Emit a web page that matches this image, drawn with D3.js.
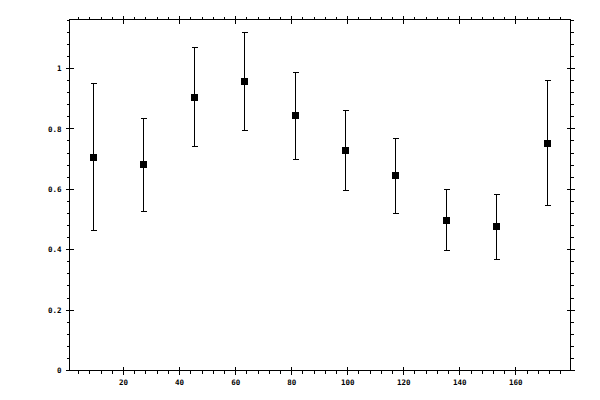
<!DOCTYPE html>
<html><head><meta charset="utf-8">
<script src="https://cdn.jsdelivr.net/npm/d3@7"></script>
<style>
body{margin:0;background:#fff;}
text{font-family:"DejaVu Sans Mono",monospace;font-size:7.5px;font-weight:bold;fill:#000;}
</style></head>
<body><svg id="c" width="600" height="400"></svg>
<script>
const xs   = [9, 27, 45, 63, 81, 99, 117, 135, 153, 171];
const ys   = [0.708, 0.684, 0.906, 0.959, 0.847, 0.731, 0.648, 0.499, 0.479, 0.754];
const yHi  = [0.953, 0.836, 1.072, 1.120, 0.989, 0.863, 0.770, 0.602, 0.585, 0.962];
const yLo  = [0.464, 0.529, 0.742, 0.795, 0.701, 0.598, 0.522, 0.400, 0.370, 0.549];
const xMajor = [20, 40, 60, 80, 100, 120, 140, 160];
const yMajor = [0, 0.2, 0.4, 0.6, 0.8, 1];

const svg = d3.select("#c");
const L = 69.5, R = 570.5, T = 19.5, B = 370.5;
const x = d3.scaleLinear().domain([0.7, 179.5]).range([L, R]);
const y = d3.scaleLinear().domain([0, 1.162]).range([B, T]);

const xMinor = d3.range(4, 180, 4).filter(v => v % 20 !== 0 && v > 0.7 && v < 179.5);
const yMinor = d3.range(0.04, 1.162, 0.04).filter(v => Math.abs(v/0.2 - Math.round(v/0.2)) > 1e-6);

const g = svg.append("g").attr("stroke", "#000").attr("stroke-width", 1).attr("shape-rendering", "crispEdges");
g.append("rect").attr("x", L).attr("y", T).attr("width", R - L).attr("height", B - T).attr("fill", "none");

xMajor.forEach(v => {
  g.append("line").attr("x1", x(v)).attr("x2", x(v)).attr("y1", B - 4).attr("y2", B + 4);
  g.append("line").attr("x1", x(v)).attr("x2", x(v)).attr("y1", T - 4).attr("y2", T + 4);
});
xMinor.forEach(v => {
  g.append("line").attr("x1", x(v)).attr("x2", x(v)).attr("y1", B).attr("y2", B + 3);
  g.append("line").attr("x1", x(v)).attr("x2", x(v)).attr("y1", T - 3).attr("y2", T);
});
yMajor.forEach(v => {
  g.append("line").attr("y1", y(v)).attr("y2", y(v)).attr("x1", L - 4).attr("x2", L + 4);
  g.append("line").attr("y1", y(v)).attr("y2", y(v)).attr("x1", R - 4).attr("x2", R + 4);
});
yMinor.forEach(v => {
  g.append("line").attr("y1", y(v)).attr("y2", y(v)).attr("x1", L - 3).attr("x2", L);
  g.append("line").attr("y1", y(v)).attr("y2", y(v)).attr("x1", R).attr("x2", R + 3);
});

svg.append("g").selectAll("text").data(xMajor).join("text")
  .attr("x", d => x(d)).attr("y", 384.5).attr("text-anchor", "middle").text(d => d);
svg.append("g").selectAll("text").data(yMajor).join("text")
  .attr("x", 61.5).attr("y", d => y(d) + 2.7).attr("text-anchor", "end")
  .text(d => String(+d.toFixed(1)));

const eb = svg.append("g").attr("stroke", "#000").attr("stroke-width", 1).attr("shape-rendering", "crispEdges");
xs.forEach((xv, i) => {
  const cx = Math.round(x(xv)) + 0.5;
  eb.append("line").attr("x1", cx).attr("x2", cx).attr("y1", y(yLo[i])).attr("y2", y(yHi[i]));
  eb.append("line").attr("x1", cx - 3).attr("x2", cx + 3).attr("y1", Math.round(y(yHi[i])) + 0.5).attr("y2", Math.round(y(yHi[i])) + 0.5);
  eb.append("line").attr("x1", cx - 3).attr("x2", cx + 3).attr("y1", Math.round(y(yLo[i])) + 0.5).attr("y2", Math.round(y(yLo[i])) + 0.5);
});
svg.append("g").selectAll("rect").data(xs).join("rect")
  .attr("x", d => Math.round(x(d)) - 3).attr("y", (d, i) => Math.round(y(ys[i])) - 3)
  .attr("width", 7).attr("height", 7).attr("fill", "#000").attr("shape-rendering", "crispEdges");
</script></body></html>
